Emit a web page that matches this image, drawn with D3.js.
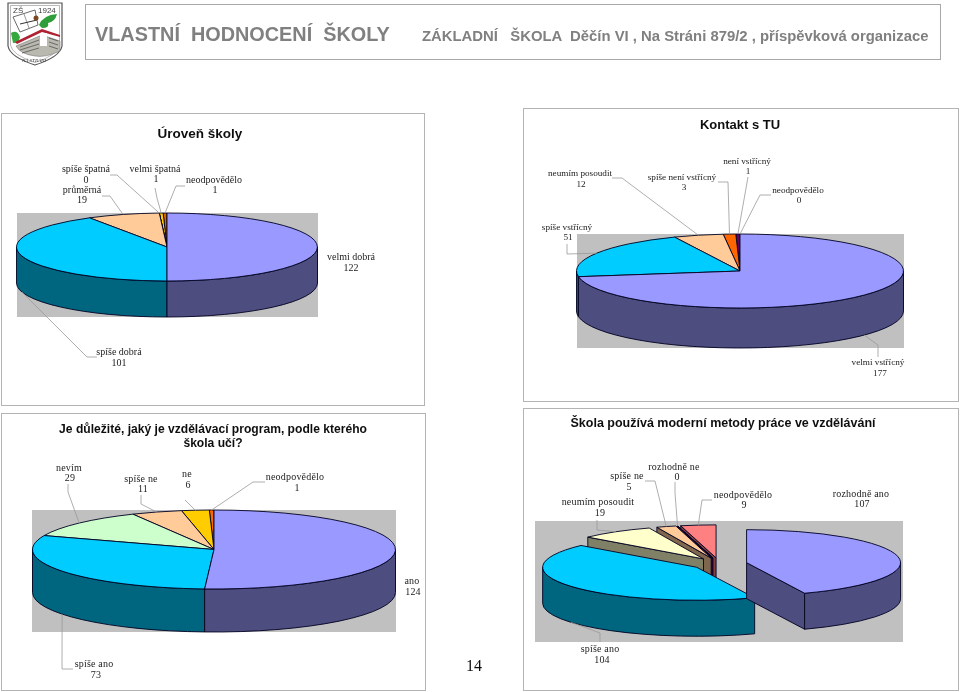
<!DOCTYPE html>
<html><head><meta charset="utf-8">
<script src="https://cdn.jsdelivr.net/npm/d3@7"></script>
<style>
html,body{margin:0;padding:0;background:#fff;overflow:hidden}
svg{display:block}
.lab{font-family:"Liberation Serif",serif;fill:#222;text-anchor:middle}
.ttl{font-family:"Liberation Sans",Arial,sans-serif;font-weight:bold;fill:#111;text-anchor:middle}
</style></head><body>
<svg id="c" width="960" height="692"></svg>
<script>
// ---- data ----
const levelCategories = ["velmi dobrá","spíše dobrá","průměrná","spíše špatná","velmi špatná","neodpovědělo"];
const levelValues     = [122,101,19,0,1,1];
const levelColors     = ["#9999FF","#00CCFF","#FFCC99","#CCFFCC","#FFCC00","#CC6600"];

const contactCategories = ["velmi vstřícný","spíše vstřícný","neumím posoudit","spíše není vstřícný","není vstřícný","neodpovědělo"];
const contactValues     = [177,51,12,3,1,0];
const contactColors     = ["#9999FF","#00CCFF","#FFCC99","#FF6600","#660066","#CC6600"];

const programCategories = ["ano","spíše ano","nevím","spíše ne","ne","neodpovědělo"];
const programValues     = [124,73,29,11,6,1];
const programColors     = ["#9999FF","#00CCFF","#CCFFCC","#FFCC99","#FFCC00","#FF6600"];

const methodCategories = ["rozhodně ano","spíše ano","neumím posoudit","spíše ne","rozhodně ne","neodpovědělo"];
const methodValues     = [107,104,19,5,0,9];
const methodColors     = ["#9999FF","#00CCFF","#FFFFCC","#FFCC99","#660066","#FF8080"];

// ---- layout (label anchors: nameX,nameY,valueX,valueY; elbows of leader lines) ----
const charts = [
 {panel:[1,113,424,405],title:["Úroveň školy"],titleX:200,titleY:[133],fs:13.5,lls:0,lfs:10,
  cats:levelCategories,vals:levelValues,cols:levelColors,
  rect:[17,213,318,317],cx:167,cy:247,rx:150.5,ry:34,depth:36,ex:0,
  labels:[[351,257,351,268],[119,352,119,363],[82,190,82,200],[86,169,86,179.5],[155,169,156,179],[214,180,215,190]],
  elbows:[null,[[97,357],[87,357]],[[102,196],[110,196]],[[110,175],[117,175]],[[155,188],[157,198]],[[185,186],[176,186]]]},
 {panel:[523,108,958,401],title:["Kontakt s TU"],titleX:740,titleY:[124],fs:13,lls:0,lfs:9.2,
  cats:contactCategories,vals:contactValues,cols:contactColors,
  rect:[577,234,904,348],cx:740,cy:271,rx:163.5,ry:37,depth:40,ex:0,
  labels:[[878,362,880,373],[567,227,568,237],[580,173,581,184],[682,177,684,187],[747,161,748,171],[798,190,799,200]],
  elbows:[[[878,357],[878,345]],[[567,244],[567,254]],[[612,178],[622,178]],[[718,182],[728,182]],[[748,177]],[[771,195],[760,195]]]},
 {panel:[1,413,425,690],title:["Je důležité, jaký je vzdělávací program, podle kterého","škola učí?"],titleX:213,titleY:[429,443],fs:12.1,lls:.2,lfs:10,
  cats:programCategories,vals:programValues,cols:programColors,
  rect:[32,510,396,632],cx:214,cy:549.5,rx:181.5,ry:39.5,depth:43,ex:0,
  labels:[[412,581,413,592],[94,664,96,675],[69,468,70,478],[141,479,143,489],[187,474,188,485],[295,477,297,488]],
  elbows:[null,[[73,669],[62,669]],[[68,484],[68,492]],[[141,495],[141,504]],[[185,500]],[[265,482],[253,482]]]},
 {panel:[523,408,958,690],title:["Škola používá moderní metody práce ve vzdělávání"],titleX:723,titleY:[422],fs:12.5,lls:.2,lfs:10,
  cats:methodCategories,vals:methodValues,cols:methodColors,
  rect:[535,521,903,642],cx:719.3,cy:563.8,rx:154,ry:33,depth:36,ex:27.8,
  labels:[[861,494,862,504],[600,649,602,660],[598,502,600,513],[627,476,629,487],[674,467,677,477],[743,495,744,505]],
  elbows:[null,[[600,642],[600,633]],[[597,520],[597,530]],[[645,481],[655,481]],[[675,482],[675,493]],[[712,500],[702,500]]]}
];

const root = d3.select("#c");
root.append("defs").append("filter").attr("id","soft").attr("x",0).attr("y",0).attr("width","100%").attr("height","100%")
    .append("feGaussianBlur").attr("stdDeviation",0.35);
const svg = root.append("g").attr("filter","url(#soft)");
svg.append("rect").attr("width",960).attr("height",692).attr("fill","#fff");
const D2 = Math.PI/2, TAU = Math.PI*2;
const pie = d3.pie().sort(null).startAngle(0).endAngle(TAU);

// header
svg.append("rect").attr("x",85.5).attr("y",4.5).attr("width",855).attr("height",55)
   .attr("fill","#fff").attr("stroke","#a8a8a8").attr("stroke-width",1);
svg.append("text").attr("x",95).attr("y",41).attr("font-family","Liberation Sans").attr("font-weight","bold")
   .attr("font-size",19.85).attr("fill","#808080").attr("xml:space","preserve").text("VLASTNÍ  HODNOCENÍ  ŠKOLY");
svg.append("text").attr("x",422).attr("y",41).attr("font-family","Liberation Sans").attr("font-weight","bold")
   .attr("font-size",14.86).attr("fill","#808080").attr("xml:space","preserve")
   .text("ZÁKLADNÍ   ŠKOLA  Děčín VI , Na Stráni 879/2 , příspěvková organizace");

// crest
const crest = svg.append("g");
crest.append("path").attr("d","M8,3H62V46Q60,57 35,65Q10,57 8,46Z").attr("fill","#fff").attr("stroke","#555").attr("stroke-width",1.2);
crest.append("path").attr("d","M10.5,5.5H59.5V45Q58,55 35,62.5Q12,55 10.5,45Z").attr("fill","none").attr("stroke","#888").attr("stroke-width",.6);
crest.append("text").attr("x",13).attr("y",12.5).attr("font-size",8).attr("font-family","Liberation Sans").attr("fill","#444").text("ZŠ");
crest.append("text").attr("x",38).attr("y",12.5).attr("font-size",8).attr("font-family","Liberation Sans").attr("fill","#444").text("1924");
crest.append("path").attr("d","M13,17L35,10L38,25L20,32Z").attr("fill","#fff").attr("stroke","#444").attr("stroke-width",.8);
crest.append("path").attr("d","M24,14L29,28").attr("stroke","#555").attr("stroke-width",.6).attr("fill","none");
crest.append("path").attr("d","M20,24L37,20").attr("stroke","#333").attr("stroke-width",1).attr("fill","none");
crest.append("path").attr("d","M39,25Q43,15 57,14Q55,22 48,23Q50,28 42,28Z").attr("fill","#2e9e3a");
crest.append("circle").attr("cx",36).attr("cy",18).attr("r",2.5).attr("fill","#7a4a20");
crest.append("path").attr("d","M11,33Q17,29 20,37Q19,43 13,43Z").attr("fill","#35a83d");
crest.append("path").attr("d","M16,46L42,35L60,41V51Q45,58 35,56Q20,54 16,46Z").attr("fill","#b9b9b0").attr("stroke","#666").attr("stroke-width",.5);
crest.append("path").attr("d","M15,42L42,29L60,35V37L42,32L17,44Z").attr("fill","#b02030");
crest.append("rect").attr("x",40).attr("y",33).attr("width",7).attr("height",13).attr("fill","#fff");
crest.append("path").attr("d","M20,47L39,40M20,50L39,44M22,53L39,48M49,38L58,41M49,42L58,45M49,46L58,49").attr("stroke","#555").attr("stroke-width",.8).attr("fill","none");
crest.append("text").attr("x",34).attr("y",61.5).attr("text-anchor","middle").attr("font-size",5).attr("font-family","Liberation Serif").attr("font-style","italic").attr("fill","#333").text("NÁ STRÁNI");

// page number
svg.append("text").attr("x",474).attr("y",671).attr("text-anchor","middle")
   .attr("font-family","Liberation Serif").attr("font-size",16).attr("fill","#111").text("14");

charts.forEach(ch=>{
  const g = svg.append("g");
  const [px0,py0,px1,py1] = ch.panel;
  g.append("rect").attr("x",px0+.5).attr("y",py0+.5).attr("width",px1-px0).attr("height",py1-py0)
    .attr("fill","#fff").attr("stroke","#b4b4b4").attr("stroke-width",1);
  ch.title.forEach((t,i)=>g.append("text").attr("class","ttl").attr("x",ch.titleX).attr("y",ch.titleY[i])
    .attr("dy",".36em").attr("font-size",ch.fs).text(t));
  const [r0,r1,r2,r3] = ch.rect;
  g.append("rect").attr("x",r0).attr("y",r1).attr("width",r2-r0).attr("height",r3-r1).attr("fill","#C0C0C0");

  const k = ch.ry/ch.rx;
  const arcs = pie(ch.vals).map((d,i)=>{
    const m = (d.startAngle+d.endAngle)/2;
    const ax = ch.cx + ch.ex*Math.sin(m), ay = ch.cy - ch.ex*k*Math.cos(m);
    const pt = a=>[ax+ch.rx*Math.sin(a), ay-ch.ry*Math.cos(a)];
    return {...d,i,m,ax,ay,pt};
  });
  const side = c=>{const o=d3.rgb(c);return d3.rgb(o.r/2,o.g/2,o.b/2).formatHex();};

  // paint back to front: last slice first
  arcs.slice().reverse().forEach(s=>{
    const S=s.startAngle,E=s.endAngle,d=ch.depth,col=ch.cols[s.i],wall=side(col);
    const add=(dstr,fill)=>g.append("path").attr("d",dstr).attr("fill",fill)
      .attr("stroke","#000020").attr("stroke-width",.9).attr("stroke-linejoin","round");
    // radial walls (only in an exploded pie can they be seen)
    if(ch.ex>0){
      const wallFor=a=>{const q=s.pt(a);add(`M${s.ax},${s.ay}L${q[0]},${q[1]}V${q[1]+d}L${s.ax},${s.ay+d}Z`,wall);};
      if(Math.cos(S-D2)<-1e-6) wallFor(S);
      if(Math.cos(E+D2)<-1e-6) wallFor(E);
    }
    // outer wall: part of the slice on the front half of the ellipse
    const a0=Math.max(S,D2),a1=Math.min(E,3*D2);
    if(a1>a0){
      const p=s.pt(a0),q=s.pt(a1);
      add(`M${p}A${ch.rx},${ch.ry} 0 0 1 ${q}V${q[1]+d}A${ch.rx},${ch.ry} 0 0 0 ${p[0]},${p[1]+d}Z`,wall);
    }
    // top face
    const p=s.pt(S),q=s.pt(E);
    add(`M${s.ax},${s.ay}L${p}A${ch.rx},${ch.ry} 0 ${E-S>Math.PI?1:0} 1 ${q}Z`,col);
  });

  // leaders and labels
  arcs.forEach(s=>{
    const lab=ch.labels[s.i], el=ch.elbows[s.i];
    if(el){
      const e=s.pt(s.m);
      if(Math.cos(s.m)<0) e[1]+=ch.depth;
      g.append("path").attr("d",d3.line()([...el,e])).attr("fill","none").attr("stroke","#999").attr("stroke-width",.8);
    }
    [[ch.cats[s.i],lab[0],lab[1]],[ch.vals[s.i],lab[2],lab[3]]].forEach(([t,x,y])=>
      g.append("text").attr("class","lab").attr("x",x).attr("y",y).attr("dy",".34em")
       .attr("font-size",ch.lfs).attr("letter-spacing",ch.lls).text(t));
  });
});
</script>
</body></html>
